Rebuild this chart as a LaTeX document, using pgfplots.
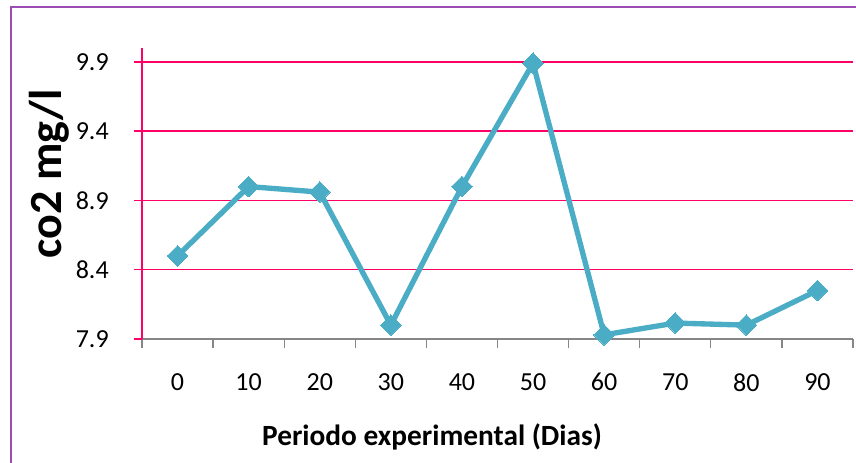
\documentclass[border=0pt]{standalone}
\usepackage{pgfplots}
\pgfplotsset{compat=1.18}
\usepackage{fontspec}
\setmainfont{Carlito}
\definecolor{gridc}{RGB}{255,0,102}
\definecolor{linec}{RGB}{75,172,198}
\definecolor{framec}{RGB}{155,77,180}
\definecolor{xaxc}{RGB}{134,134,134}
\begin{document}
\begin{tikzpicture}
\useasboundingbox (0,0) rectangle (642pt,347.25pt);
\draw[framec, line width=1.5pt] (7.875pt,-10pt) -- (7.875pt,342pt) -- (660pt,342pt);
\begin{axis}[
  at={(106.5pt,93pt)}, anchor=south west,
  scale only axis, width=533.25pt, height=218.25pt,
  xmin=-0.5, xmax=9.5, ymin=7.9, ymax=10,
  axis x line*=bottom, axis y line*=left,
  x axis line style={xaxc, line width=1pt},
  y axis line style={gridc, line width=1pt},
  xtick={0,...,9},
  xticklabels={0,10,20,30,40,50,60,70,80,90},
  minor xtick={-0.5,0.5,1.5,2.5,3.5,4.5,5.5,6.5,7.5,8.5,9.5},
  major x tick style={draw=none},
  minor x tick style={xaxc, line width=1pt},
  minor tick length=7pt,
  major tick length=6pt,
  tick align=outside,
  ytick={7.9,8.4,8.9,9.4,9.9},
  yticklabels={7.9,8.4,8.9,9.4,9.9},
  major y tick style={gridc, line width=1pt},
  ymajorgrids,
  major grid style={gridc, line width=1pt},
  tick label style={font=\fontsize{19.5}{22}\selectfont, text=black},
  yticklabel style={anchor=east, inner sep=0pt, xshift=-18.75pt},
  xticklabel style={anchor=north, inner sep=0pt, yshift=-19.5pt},
  clip=false,
]
\addplot[linec, line width=4pt, mark=square*, mark size=5.5pt,
  mark options={solid, fill=linec, draw=linec, line width=0pt, rotate=45}]
  coordinates {(0,8.5) (1,9.0) (2,8.96) (3,8.0) (4,9.0) (5,9.89) (6,7.93) (7,8.015) (8,8.0) (9,8.25)};
\node[rotate=90, anchor=base, font=\bfseries\fontsize{34.5}{40}\selectfont] at (axis description cs:-0.1139,0.5687) {co2 mg/l};
\node[anchor=base, font=\bfseries\fontsize{22}{26}\selectfont] at (axis description cs:0.408,-0.3666) {Periodo experimental (Dias)};
\end{axis}
\end{tikzpicture}
\end{document}
